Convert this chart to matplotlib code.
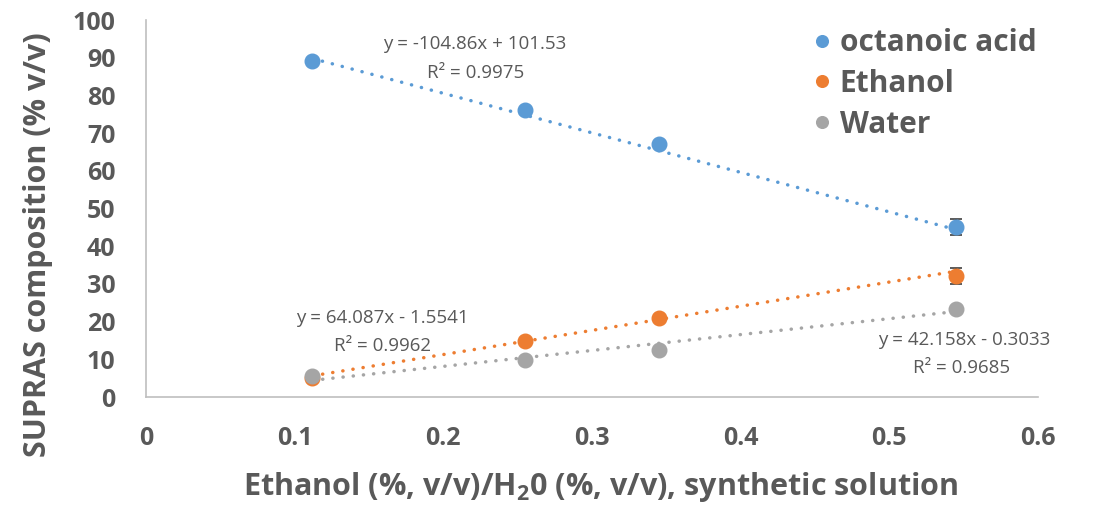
import matplotlib
matplotlib.use("Agg")
import matplotlib.pyplot as plt
import numpy as np

plt.rcParams['font.family'] = ['Open Sans', 'DejaVu Sans']

# data
x = [0.112, 0.255, 0.345, 0.545]
octanoic = [89.1, 76.1, 67.0, 45.0]
ethanol = [5.0, 14.9, 21.0, 32.1]
water = [5.6, 9.8, 12.5, 23.3]
octanoic_err = [0, 0, 0, 2.1]
ethanol_err = [0, 0, 0, 2.2]
water_err = [0, 0, 0, 0]

# trendline coefficients (slope, intercept) as printed on the chart
fit_oct = [-104.86, 101.53]
fit_eth = [64.087, -1.5541]
fit_wat = [42.158, -0.3033]
eq_oct = ["y = -104.86x + 101.53", "R² = 0.9975"]
eq_eth = ["y = 64.087x - 1.5541", "R² = 0.9962"]
eq_wat = ["y = 42.158x - 0.3033", "R² = 0.9685"]

names = ["octanoic acid", "Ethanol", "Water"]
colors = ["#5B9BD5", "#ED7D31", "#A5A5A5"]
txt = "#595959"

fig = plt.figure(figsize=(10.99, 5.08), dpi=100)
ax = fig.add_axes([0.1328, 0.2185, 0.8117, 0.7421])

series = [(octanoic, octanoic_err, fit_oct), (ethanol, ethanol_err, fit_eth),
          (water, water_err, fit_wat)]
handles = []
for (ys, err, fit), col, name in zip(series, colors, names):
    xs = np.array([min(x), max(x)])
    ax.plot(xs, fit[0] * xs + fit[1], color=col, lw=2.5,
            linestyle=(0, (0.05, 2.9)), dash_capstyle='round', zorder=2)
    ax.errorbar(x, ys, yerr=err, fmt='none', ecolor='#404040', elinewidth=1.2,
                capsize=4, capthick=1.2, zorder=3)
    h, = ax.plot(x, ys, 'o', color=col, ms=10.5, zorder=4, label=name)
    handles.append(h)

ax.set_xlim(0, 0.6)
ax.set_ylim(0, 100)
ax.set_xticks(np.arange(0, 0.61, 0.1))
ax.set_xticklabels(["0", "0.1", "0.2", "0.3", "0.4", "0.5", "0.6"])
ax.set_yticks(range(0, 101, 10))
for s in ["top", "right"]:
    ax.spines[s].set_visible(False)
for s in ["left", "bottom"]:
    ax.spines[s].set_color("#BFBFBF")
    ax.spines[s].set_linewidth(1.2)
ax.tick_params(length=0, labelsize=18, labelcolor=txt)
ax.tick_params(axis='y', pad=22)
ax.tick_params(axis='x', pad=21)
for lab in ax.get_xticklabels() + ax.get_yticklabels():
    lab.set_fontweight('bold')

ax.set_xlabel("Ethanol (%, v/v)/H$\\mathregular{_2}$0 (%, v/v), synthetic solution",
              fontsize=22, fontweight='bold', color=txt, va='center')
ax.set_ylabel("SUPRAS composition (% v/v)", fontsize=22, fontweight='bold',
              color=txt, va='center')
ax.xaxis.set_label_coords((601 - 146) / 892, -(487 - 397) / 377)
ax.yaxis.set_label_coords(-(146 - 38) / 892, (397 - 245) / 377)

def put(px, py, s):
    fig.text(px / 1099, 1 - py / 508, s, ha='center', va='center',
             fontsize=13.5, color=txt)

put(475, 44, eq_oct[0])
put(476, 73, eq_oct[1])
put(382, 318, eq_eth[0])
put(382, 346, eq_eth[1])
put(964, 340, eq_wat[0])
put(962, 368, eq_wat[1])

leg = ax.legend(handles=handles, loc='upper left', bbox_to_anchor=((780 - 146) / 892, 1.05),
                frameon=False, fontsize=21.5, handletextpad=0.1, handlelength=1.0,
                labelspacing=0.36, markerscale=0.8)
for t in leg.get_texts():
    t.set_color(txt)
    t.set_fontweight('bold')

fig.savefig("out.png", dpi=100)
